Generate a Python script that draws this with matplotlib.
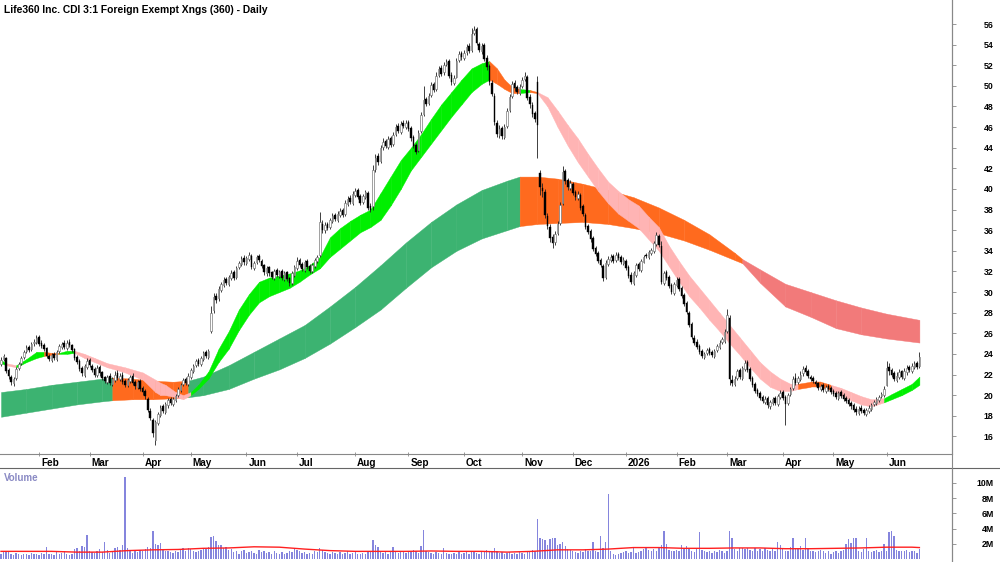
import numpy as np
import pandas as pd
import matplotlib
matplotlib.use("Agg")
import matplotlib.pyplot as plt
from matplotlib.lines import Line2D
from matplotlib.transforms import ScaledTranslation

plt.rcParams['font.family'] = ['Liberation Sans', 'DejaVu Sans']

title = "Life360 Inc. CDI 3:1 Foreign Exempt Xngs (360) - Daily"

# ASX trading days
holidays = ["2025-01-27", "2025-04-18", "2025-04-21", "2025-04-25", "2025-06-09",
            "2025-12-25", "2025-12-26", "2026-01-01", "2026-01-26", "2026-04-03",
            "2026-04-06", "2026-06-08"]
dates = pd.bdate_range("2025-01-10", "2026-06-19", freq="C", holidays=holidays)

# Daily prices
opens = [
    23.0, 23.5, 23.6, 22.4, 21.8, 21.2, 21.7, 22.6, 23.1, 23.7, 24.3, 24.7, 24.5, 25.1, 25.2, 25.6,
    25.1, 24.9, 24.6, 23.8, 23.4, 24.0, 23.5, 24.3, 24.7, 25.1, 24.6, 25.2, 24.9, 24.5, 23.7, 23.3, 22.6, 22.0, 22.7, 23.4,
    22.8, 22.5, 22.0, 22.7, 22.2, 21.8, 21.3, 21.9, 21.1, 21.5, 22.1, 21.6, 22.0, 21.4, 21.0, 21.4, 21.9, 21.3, 20.8, 21.4, 20.7,
    20.4, 19.6, 18.5, 17.6, 15.6, 17.3, 18.1, 18.9, 18.4, 19.0, 19.6, 19.1, 19.5, 20.0, 20.5, 21.1, 21.6, 21.1, 21.8,
    22.3, 22.9, 23.4, 23.0, 23.5, 24.2, 23.7, 26.2, 28.3, 29.6, 29.4, 30.2, 30.7, 31.3, 30.8, 31.4, 31.9, 31.5, 32.4, 32.7, 33.3, 32.8,
    33.2, 33.5, 32.3, 32.9, 33.5, 33.0, 32.6, 31.8, 32.4, 31.9, 31.4, 32.1, 31.6, 32.0, 31.3, 31.9, 31.4, 30.9, 31.7, 32.3,
    33.1, 32.7, 32.1, 33.0, 32.5, 32.0, 32.5, 33.0, 33.6, 36.6, 36.0, 36.6, 36.3, 36.9, 37.5, 37.0, 37.5, 38.0, 37.6, 38.5, 39.1, 38.6,
    39.4, 39.9, 39.3, 38.7, 39.2, 39.6, 38.3, 38.3, 41.9, 43.2, 42.7, 44.1, 44.7, 44.1, 44.9, 44.4, 45.3, 46.1, 45.5, 46.4, 46.0,
    46.5, 45.9, 45.0, 44.3, 43.8, 45.6, 47.3, 48.7, 48.3, 49.1, 50.2, 49.7, 51.1, 51.7, 51.3, 52.1, 52.4, 51.1, 50.3, 50.9, 52.5, 53.2,
    52.7, 53.3, 53.9, 53.5, 55.1, 55.5, 54.1, 53.4, 54.0, 52.7, 51.9, 50.3, 49.0, 46.4, 45.2, 45.9, 45.0, 46.1, 47.7, 49.0, 50.3, 49.9, 49.3,
    50.0, 50.7, 50.9, 48.9, 48.1, 47.4, 50.4, 41.5, 40.1, 39.7, 37.4, 36.3, 35.3, 34.9, 35.7, 36.7, 38.6, 41.7, 40.9, 40.1,
    40.5, 39.7, 39.1, 39.4, 38.3, 37.5, 36.4, 35.9, 35.2, 34.3, 33.8, 33.1, 32.5, 31.5, 32.7, 33.1, 33.5, 33.1, 33.7, 33.4, 32.8,
    33.0, 32.4, 31.7, 30.9, 31.7, 32.7, 32.1, 32.9, 33.6, 33.4, 33.8, 34.0, 34.7, 35.4, 34.5, 30.9, 31.9, 31.5, 30.7, 29.9,
    30.7, 31.3, 30.4, 29.7, 28.9, 28.0, 26.9, 25.5, 25.2, 24.8, 24.3, 23.7, 24.1, 24.5, 24.2, 23.8, 24.4, 24.7, 25.2, 25.3,
    26.2, 27.5, 21.5, 21.1, 21.7, 22.4, 21.7, 22.5, 23.2, 22.5, 21.7, 21.1, 20.5, 20.2, 19.8, 19.3, 19.7, 18.9, 19.2, 19.7, 19.1, 19.8,
    20.3, 19.8, 19.2, 20.1, 20.7, 21.7, 21.3, 21.6, 22.1, 22.6, 22.3, 21.8, 21.7, 21.3, 21.2, 20.6, 21.0, 20.4, 20.9, 20.7,
    20.4, 20.2, 19.7, 20.3, 20.0, 19.7, 19.5, 19.2, 19.0, 18.7, 18.3, 18.8, 18.6, 18.2, 18.5, 18.7, 19.1, 19.2, 19.5, 19.9, 20.0,
    21.0, 22.7, 22.4, 22.1, 21.5, 21.8, 22.3, 21.7, 22.2, 22.7, 22.3, 22.7, 23.1, 22.8,
]
highs = [
    23.7, 24.0, 23.7, 22.6, 22.0, 21.8, 22.7, 23.2, 23.8, 24.4, 24.9, 24.9, 25.2, 25.4, 25.8, 25.8,
    25.3, 25.1, 24.7, 24.0, 24.1, 24.2, 24.4, 25.0, 25.2, 25.3, 25.3, 25.4, 25.0, 24.6, 23.9, 23.5, 22.8, 23.0, 23.6, 23.6,
    23.0, 22.7, 22.9, 22.9, 22.3, 21.9, 22.0, 22.1, 21.8, 22.3, 22.4, 22.1, 22.2, 21.6, 21.7, 22.0, 22.1, 21.5, 21.5, 21.6, 20.9,
    20.6, 19.8, 18.8, 17.8, 17.6, 18.4, 19.0, 19.1, 19.3, 19.7, 19.8, 19.8, 20.1, 20.8, 21.2, 21.7, 21.8, 22.1, 22.6,
    23.0, 23.5, 23.6, 23.8, 24.3, 24.4, 24.5, 28.6, 29.9, 29.9, 30.6, 31.0, 31.5, 31.5, 31.7, 32.1, 32.1, 32.5, 33.0, 33.5, 33.6, 33.5,
    33.9, 33.7, 33.0, 33.6, 33.7, 33.2, 32.7, 32.5, 32.5, 32.0, 32.2, 32.3, 32.1, 32.2, 32.0, 32.0, 31.5, 32.0, 32.6, 33.4,
    33.3, 32.9, 33.1, 33.2, 32.7, 32.8, 33.3, 33.6, 37.8, 37.0, 36.8, 36.8, 37.2, 37.7, 37.7, 37.9, 38.2, 38.2, 38.9, 39.3, 39.4, 39.8,
    40.1, 40.1, 39.5, 39.5, 39.9, 39.8, 38.6, 42.3, 43.4, 43.5, 44.3, 44.9, 44.8, 45.1, 45.1, 45.5, 46.3, 46.4, 46.6, 46.7, 46.7,
    46.7, 46.1, 45.2, 44.5, 45.7, 47.5, 50.0, 48.9, 49.3, 50.4, 50.4, 51.3, 51.9, 52.0, 52.3, 52.6, 52.6, 51.3, 51.1, 52.7, 53.4, 53.4,
    53.5, 54.1, 54.2, 55.6, 55.8, 55.7, 54.3, 54.2, 54.2, 53.0, 52.1, 50.6, 49.3, 46.7, 46.2, 46.1, 46.3, 47.9, 49.2, 50.5, 50.6, 50.1, 50.2,
    50.9, 51.3, 51.1, 49.2, 48.4, 47.6, 51.0, 41.8, 40.6, 40.0, 37.7, 36.6, 35.6, 35.9, 36.9, 38.7, 42.2, 41.9, 41.1, 40.9,
    40.7, 39.9, 39.8, 39.6, 38.5, 37.7, 36.6, 36.1, 35.4, 34.5, 34.0, 33.3, 32.7, 33.1, 33.5, 33.7, 33.7, 33.9, 33.9, 33.6, 33.4,
    33.2, 32.6, 31.9, 32.0, 32.8, 32.9, 33.2, 33.6, 33.8, 34.1, 34.3, 35.0, 35.8, 35.6, 35.0, 32.0, 32.1, 31.7, 30.9, 31.0,
    31.5, 31.5, 30.6, 29.9, 29.1, 28.2, 27.1, 25.8, 25.4, 25.0, 24.5, 24.2, 24.6, 24.7, 24.4, 24.5, 25.0, 25.3, 25.6, 26.4,
    28.4, 27.8, 22.0, 21.9, 22.5, 22.6, 22.8, 23.4, 23.4, 22.7, 21.9, 21.3, 20.7, 20.4, 20.0, 19.9, 19.9, 19.5, 19.8, 19.9, 20.1, 20.5,
    20.5, 20.0, 20.2, 20.8, 21.9, 22.1, 21.9, 22.3, 22.8, 22.9, 22.5, 22.0, 21.9, 21.5, 21.3, 21.1, 21.2, 21.0, 21.1, 20.9,
    20.6, 20.4, 20.4, 20.5, 20.2, 19.9, 19.7, 19.4, 19.2, 18.9, 18.9, 19.0, 18.8, 18.8, 19.0, 19.2, 19.5, 19.8, 20.0, 20.3, 20.9,
    23.3, 23.1, 22.6, 22.3, 22.2, 22.5, 22.4, 22.6, 22.9, 22.9, 23.1, 23.3, 23.3, 24.2,
]
lows = [
    22.8, 23.3, 22.1, 21.6, 21.0, 20.9, 21.5, 22.4, 22.9, 23.5, 24.1, 24.2, 24.3, 24.8, 25.0, 24.8,
    24.6, 24.3, 23.6, 23.3, 23.2, 23.4, 23.3, 24.1, 24.5, 24.5, 24.4, 24.7, 24.2, 23.4, 23.0, 22.3, 21.9, 21.8, 22.5, 22.7,
    22.2, 21.8, 21.8, 21.9, 21.5, 21.2, 21.1, 21.0, 20.9, 21.3, 21.5, 21.4, 21.1, 20.8, 20.8, 21.2, 21.0, 20.6, 20.6, 20.4, 20.0,
    19.6, 18.4, 17.6, 15.9, 15.2, 17.1, 17.9, 18.3, 18.2, 18.8, 19.0, 18.9, 19.3, 19.8, 20.3, 20.9, 21.0, 20.9, 21.6,
    22.1, 22.7, 22.8, 22.8, 23.3, 23.6, 23.5, 26.0, 28.0, 28.9, 29.1, 30.0, 30.5, 30.7, 30.6, 31.2, 31.2, 31.3, 32.2, 32.5, 32.6, 32.6,
    33.0, 32.2, 32.1, 32.7, 32.9, 32.3, 31.7, 31.6, 31.6, 31.3, 31.2, 31.5, 31.4, 31.2, 31.1, 31.1, 30.6, 30.7, 31.5, 32.1,
    32.4, 32.0, 31.9, 32.2, 31.8, 31.8, 32.3, 32.8, 33.4, 35.7, 35.7, 36.0, 36.1, 36.7, 36.9, 36.8, 37.3, 37.3, 37.4, 38.3, 38.5, 38.4,
    39.2, 39.0, 38.4, 38.5, 39.0, 38.0, 37.8, 38.0, 41.6, 42.3, 42.5, 43.8, 44.0, 43.9, 44.1, 44.2, 45.1, 45.4, 45.3, 45.9, 45.8,
    45.6, 44.7, 44.0, 43.4, 43.6, 45.4, 47.1, 48.0, 48.1, 48.9, 49.4, 49.5, 50.9, 51.0, 51.1, 51.9, 50.8, 50.1, 50.1, 50.8, 52.3, 52.5,
    52.5, 53.0, 53.2, 53.3, 54.9, 54.0, 53.3, 53.1, 52.4, 51.5, 50.1, 49.0, 46.2, 45.0, 44.9, 44.8, 44.8, 45.9, 47.5, 48.8, 49.5, 49.2, 49.1,
    49.8, 50.5, 48.6, 47.9, 47.0, 46.5, 43.0, 39.4, 39.2, 37.2, 36.1, 34.9, 34.3, 34.6, 35.5, 36.5, 38.4, 40.5, 39.9, 39.9,
    39.4, 38.9, 38.9, 38.0, 37.4, 36.1, 35.6, 34.9, 34.0, 33.5, 32.8, 32.4, 31.1, 31.3, 32.5, 32.9, 32.8, 32.9, 33.1, 32.7, 32.6,
    32.1, 31.4, 30.8, 30.7, 31.5, 32.0, 31.9, 32.8, 33.3, 33.2, 33.6, 33.8, 34.5, 34.4, 30.8, 30.7, 31.2, 30.4, 29.8, 29.7,
    30.5, 30.1, 29.4, 28.6, 27.9, 26.6, 25.4, 24.9, 24.5, 24.0, 23.6, 23.5, 23.9, 23.9, 23.7, 23.6, 24.2, 24.5, 25.0, 25.1,
    26.0, 21.0, 20.9, 20.9, 21.5, 21.6, 21.5, 22.3, 22.2, 21.4, 20.8, 20.2, 19.9, 19.5, 19.2, 19.1, 18.8, 18.7, 19.0, 19.0, 18.9, 19.6,
    19.5, 17.1, 19.0, 19.9, 20.5, 21.0, 21.1, 21.4, 21.9, 22.0, 21.7, 21.4, 21.2, 20.9, 20.5, 20.4, 20.3, 20.2, 20.4, 20.1,
    19.9, 19.6, 19.5, 19.7, 19.4, 19.2, 18.9, 18.7, 18.4, 18.1, 18.1, 18.3, 18.1, 18.0, 18.3, 18.5, 18.9, 19.0, 19.3, 19.7, 19.8,
    20.9, 22.0, 21.8, 21.4, 21.3, 21.6, 21.6, 21.5, 22.0, 22.2, 22.1, 22.5, 22.5, 22.6,
]
closes = [
    23.4, 23.8, 22.3, 21.9, 21.3, 21.6, 22.5, 23.0, 23.6, 24.2, 24.6, 24.4, 25.0, 25.2, 25.5, 25.0,
    24.8, 24.5, 23.8, 23.5, 23.9, 23.6, 24.2, 24.8, 25.0, 24.7, 25.1, 24.9, 24.4, 23.6, 23.2, 22.5, 22.1, 22.8, 23.3, 22.9,
    22.4, 22.0, 22.6, 22.1, 21.7, 21.4, 21.8, 21.2, 21.6, 22.0, 21.7, 21.9, 21.3, 21.0, 21.5, 21.8, 21.2, 20.9, 21.3, 20.6, 20.3,
    19.9, 18.6, 17.8, 16.3, 17.4, 18.2, 18.8, 18.5, 19.1, 19.5, 19.2, 19.6, 19.9, 20.6, 21.0, 21.5, 21.2, 21.9, 22.4,
    22.8, 23.3, 23.0, 23.6, 24.1, 23.8, 24.3, 28.0, 29.5, 29.2, 30.3, 30.8, 31.2, 30.9, 31.5, 31.8, 31.4, 32.3, 32.8, 33.2, 32.9, 33.3,
    33.6, 32.4, 32.8, 33.4, 33.1, 32.5, 31.9, 32.3, 31.8, 31.5, 32.0, 31.7, 31.9, 31.4, 31.8, 31.3, 30.9, 31.8, 32.4, 33.0,
    32.6, 32.2, 32.9, 32.4, 32.0, 32.6, 33.1, 33.4, 36.8, 36.0, 36.5, 36.2, 37.0, 37.4, 37.1, 37.6, 37.9, 37.5, 38.6, 39.0, 38.7, 39.5,
    39.8, 39.2, 38.6, 39.3, 39.7, 38.2, 38.0, 41.8, 43.0, 42.6, 44.0, 44.6, 44.2, 44.8, 44.3, 45.2, 46.0, 45.6, 46.3, 46.1, 46.4,
    45.8, 44.9, 44.2, 43.6, 45.4, 47.2, 48.6, 48.2, 49.0, 50.1, 49.6, 51.0, 51.6, 51.2, 52.0, 52.3, 51.0, 50.4, 50.8, 52.4, 53.1, 52.8,
    53.2, 53.8, 53.4, 55.0, 55.4, 54.2, 53.5, 53.9, 52.6, 51.8, 50.4, 49.2, 46.5, 45.3, 45.8, 45.1, 46.0, 47.6, 48.9, 50.2, 49.8, 49.4, 49.9,
    50.6, 51.0, 48.8, 48.2, 47.3, 46.8, 46.2, 40.2, 39.8, 37.5, 36.4, 35.2, 34.8, 35.6, 36.6, 38.4, 41.6, 40.8, 40.2, 40.6,
    39.6, 39.2, 39.5, 38.2, 37.6, 36.3, 35.8, 35.1, 34.2, 33.7, 33.0, 32.6, 31.4, 32.8, 33.2, 33.4, 33.0, 33.6, 33.3, 32.9, 33.1,
    32.3, 31.6, 31.0, 31.8, 32.6, 32.2, 33.0, 33.4, 33.5, 33.9, 34.1, 34.8, 35.5, 34.6, 31.0, 31.8, 31.4, 30.6, 30.0, 30.8,
    31.2, 30.3, 29.6, 28.8, 28.1, 26.8, 25.6, 25.1, 24.7, 24.2, 23.8, 24.0, 24.4, 24.1, 23.9, 24.3, 24.8, 25.1, 25.4, 26.1,
    27.8, 21.6, 21.2, 21.6, 22.3, 21.8, 22.6, 23.1, 22.4, 21.6, 21.0, 20.4, 20.1, 19.7, 19.4, 19.6, 19.0, 19.3, 19.6, 19.2, 19.9, 20.2,
    19.7, 19.1, 20.0, 20.6, 21.6, 21.2, 21.7, 22.0, 22.5, 22.2, 21.9, 21.6, 21.4, 21.1, 20.7, 20.9, 20.5, 20.8, 20.6, 20.3,
    20.1, 19.8, 20.2, 19.9, 19.6, 19.4, 19.1, 18.9, 18.6, 18.4, 18.7, 18.5, 18.3, 18.6, 18.8, 19.0, 19.3, 19.6, 19.8, 20.1, 20.6,
    22.6, 22.3, 22.0, 21.6, 21.9, 22.2, 21.8, 22.3, 22.6, 22.4, 22.8, 23.0, 22.7, 23.7,
]
# volume in millions
volume_m = [
    0.6, 0.9, 1.1, 1.0, 0.7, 0.5, 0.8, 0.6, 0.5, 0.7, 0.6, 0.5, 0.8, 0.6, 0.7, 0.5,
    0.8, 0.6, 1.6, 0.7, 0.6, 0.5, 0.9, 0.7, 0.8, 1.0, 0.6, 0.5, 0.7, 1.3, 1.5, 1.0, 1.7, 1.6, 3.2, 1.1,
    0.9, 0.8, 1.0, 1.3, 0.9, 2.2, 1.2, 0.8, 1.0, 1.4, 1.6, 1.2, 1.9, 10.8, 1.5, 1.0, 0.8, 1.1, 0.9, 1.2, 1.0,
    1.3, 1.6, 1.4, 3.7, 2.0, 1.8, 2.1, 1.2, 1.0, 1.1, 0.9, 0.8, 1.0, 0.9, 1.2, 1.4, 1.1, 1.5, 1.3,
    1.0, 0.9, 1.1, 1.2, 1.4, 1.3, 1.6, 2.9, 3.0, 2.4, 1.8, 1.9, 1.5, 1.6, 1.2, 1.3, 0.9, 1.1, 0.7, 1.0, 1.2, 0.8,
    0.9, 1.1, 0.8, 0.7, 1.2, 0.9, 1.0, 0.8, 0.9, 0.7, 1.1, 0.8, 0.6, 0.9, 0.7, 0.8, 1.0, 0.9, 1.4, 1.2,
    1.0, 0.8, 0.9, 0.7, 0.8, 0.6, 1.1, 0.9, 1.4, 1.2, 0.9, 0.8, 0.7, 0.9, 0.8, 0.6, 0.9, 0.7, 0.8, 1.0, 0.7, 0.8,
    0.9, 0.7, 0.6, 0.8, 0.7, 0.9, 1.0, 2.5, 1.8, 1.6, 0.9, 0.8, 1.0, 0.7, 0.9, 1.6, 1.0, 0.8, 0.9, 1.1, 0.8,
    0.9, 1.0, 1.2, 1.1, 0.8, 1.7, 3.8, 1.0, 0.9, 0.8, 0.7, 0.9, 0.8, 0.7, 1.5, 0.8, 0.6, 0.7, 0.8, 0.6, 0.9, 0.7,
    0.8, 0.9, 0.7, 1.1, 0.9, 0.8, 0.7, 0.9, 1.0, 1.2, 1.1, 0.9, 1.4, 1.0, 0.8, 0.9, 0.7, 0.8, 0.9, 0.7, 0.8, 0.6, 0.9,
    0.8, 0.7, 1.0, 0.9, 1.2, 1.0, 5.2, 2.7, 2.6, 2.5, 1.9, 2.6, 2.7, 2.8, 1.8, 2.0, 2.2, 1.7, 1.3, 1.2,
    1.0, 0.9, 0.8, 1.1, 0.9, 1.3, 1.0, 1.1, 2.2, 1.0, 0.9, 3.0, 1.5, 2.2, 8.5, 1.0, 0.6, 0.5, 0.7, 0.8, 0.9,
    1.0, 0.8, 0.9, 1.4, 0.8, 0.9, 1.1, 1.3, 1.6, 1.2, 1.1, 1.3, 1.0, 1.4, 1.8, 3.7, 2.0, 1.2, 1.0, 1.1,
    1.2, 1.1, 1.8, 1.5, 1.7, 1.3, 1.0, 0.9, 1.4, 3.5, 1.2, 1.0, 0.9, 1.1, 0.8, 1.0, 0.9, 1.2, 1.0, 0.8,
    1.1, 3.7, 2.7, 1.3, 1.0, 1.4, 1.5, 1.3, 1.5, 1.2, 1.0, 1.4, 1.1, 1.3, 1.0, 1.4, 1.2, 1.0, 1.4, 1.1, 2.2, 1.9,
    1.3, 1.0, 1.1, 1.6, 2.8, 1.5, 1.3, 1.7, 1.2, 2.8, 1.4, 1.0, 1.1, 0.9, 1.0, 1.2, 1.0, 0.8, 1.1, 0.7,
    0.9, 1.0, 0.8, 1.1, 1.2, 2.0, 2.6, 2.1, 2.8, 2.7, 1.0, 0.9, 1.3, 2.8, 1.1, 0.9, 1.0, 1.2, 0.9, 1.0, 2.0,
    1.1, 3.5, 3.7, 3.0, 1.2, 1.0, 1.1, 1.0, 1.2, 0.9, 1.0, 1.1, 0.8, 1.3,
]
# volume average line, sampled
vol_avg_idx = [0, 10, 20, 30, 40, 50, 60, 70, 80, 90, 100, 110, 120, 130, 140, 150, 160, 170, 180,
               190, 200, 210, 220, 230, 240, 250, 260, 270, 280, 290, 300, 310, 320, 330, 340, 350, 360, 363]
vol_avg = [1.0, 1.0, 1.0, 0.9, 0.9, 1.1, 1.2, 1.25, 1.4, 1.45, 1.6, 1.55, 1.3, 1.1, 1.0, 1.0, 1.0, 1.05, 1.0,
           1.0, 0.9, 1.0, 1.2, 1.2, 1.3, 1.5, 1.5, 1.4, 1.4, 1.45, 1.45, 1.35, 1.35, 1.4, 1.45, 1.55, 1.55, 1.5]

# short-term ribbon (upper, lower, colour code of the segment that starts there)
short_idx = [0, 2, 6, 10, 14, 17, 20, 23, 26, 29, 33, 37, 42, 49, 56, 61, 63, 65, 69, 72, 75, 78, 82, 86,
             90, 94, 98, 102, 106, 110, 114, 118, 122, 126, 130, 134, 138, 142, 146, 150, 154, 158, 162,
             166, 170, 174, 178, 182, 186, 190, 193, 196, 199, 202, 205, 209, 212, 216, 220, 224, 228,
             232, 236, 240, 244, 248, 252, 256, 260, 264, 268, 272, 276, 280, 284, 288, 292, 296, 300,
             304, 308, 312, 315, 320, 324, 328, 332, 336, 340, 344, 349, 352, 356, 360, 363]
short_hi = [23.4, 23.1, 22.9, 23.5, 24.2, 24.2, 24.1, 24.1, 24.3, 24.3, 24.0, 23.6, 23.1, 22.7, 22.2, 21.5,
            21.2, 21.0, 20.3, 20.0, 20.3, 21.0, 22.3, 24.5, 26.2, 28.3, 29.8, 31.0, 31.4, 31.6, 31.8,
            32.1, 32.6, 33.4, 35.3, 36.2, 36.9, 37.5, 38.0, 39.6, 41.2, 42.8, 44.0, 45.3, 46.8, 48.2,
            49.4, 50.6, 51.7, 52.2, 52.4, 51.7, 50.6, 49.9, 49.7, 49.6, 49.4, 48.9, 47.6, 46.2, 44.9,
            43.4, 42.0, 40.7, 39.8, 39.0, 38.4, 37.3, 36.3, 34.5, 33.0, 31.6, 30.4, 29.2, 28.0, 26.8,
            25.6, 24.4, 23.2, 22.3, 21.6, 21.1, 21.1, 21.3, 21.3, 21.0, 20.7, 20.3, 19.9, 19.6, 19.7,
            20.1, 20.6, 21.1, 21.8]
short_lo = [23.1, 22.9, 22.7, 23.2, 23.6, 23.8, 23.9, 24.0, 24.0, 24.1, 23.6, 23.2, 22.7, 22.2, 21.5, 20.3,
            20.0, 20.0, 19.8, 19.6, 20.0, 20.6, 21.6, 23.2, 24.5, 26.3, 27.8, 29.0, 29.6, 30.0, 30.4,
            31.0, 31.7, 32.3, 33.4, 34.2, 35.0, 35.8, 36.3, 37.0, 38.4, 40.0, 41.8, 43.1, 44.4, 45.7,
            47.0, 48.2, 49.4, 50.2, 50.6, 50.2, 49.7, 49.3, 49.3, 49.4, 49.3, 48.0, 46.0, 44.2, 42.6,
            41.2, 39.8, 38.6, 37.6, 36.9, 36.2, 35.1, 34.0, 32.5, 31.0, 29.6, 28.5, 27.3, 26.2, 25.0,
            23.9, 22.7, 21.6, 20.8, 20.4, 20.4, 20.6, 20.8, 20.8, 20.5, 20.0, 19.5, 19.1, 18.9, 19.3,
            19.6, 20.0, 20.5, 21.0]
short_code = list("g" "p" "ggg" "oo" "gg" + "p" * 11 + "g" * 30 + "oooo" "g" "o" + "p" * 26
                  + "ooo" + "p" * 5 + "g" * 4)

# long-term ribbon
long_idx = [0, 10, 20, 30, 40, 44, 52, 60, 68, 74, 80, 90, 100, 110, 120, 130, 140, 150, 160, 170, 180,
            190, 200, 205, 212, 220, 230, 240, 250, 260, 270, 280, 290, 293, 300, 310, 320, 330, 340, 350, 363]
long_hi = [20.3, 20.6, 21.0, 21.3, 21.6, 21.7, 21.6, 21.4, 21.3, 21.4, 21.8, 22.9, 24.2, 25.5, 26.8, 28.6,
           30.5, 32.6, 34.8, 36.8, 38.5, 39.9, 40.8, 41.2, 41.2, 41.0, 40.5, 39.9, 39.2, 38.2, 37.0, 35.6,
           33.8, 33.2, 32.2, 30.8, 30.0, 29.2, 28.5, 27.9, 27.3]
long_lo = [17.9, 18.3, 18.7, 19.1, 19.4, 19.5, 19.6, 19.6, 19.7, 19.8, 20.0, 20.6, 21.6, 22.5, 23.6, 25.0,
           26.6, 28.3, 30.4, 32.4, 34.0, 35.2, 36.0, 36.4, 36.6, 36.7, 36.8, 36.6, 36.2, 35.7, 35.0, 34.1,
           33.1, 32.8, 30.9, 28.6, 27.6, 26.5, 25.9, 25.5, 25.1]
long_code = list("ggggg" "oooo" + "g" * 14 + "o" * 10 + "r" * 7)

short_colors = {"g": "#00ef00", "p": "#ffb4b4", "o": "#ff6a1e"}
long_colors = {"g": "#3cb371", "o": "#ff6a1e", "r": "#f27a7a"}

n = min(len(dates), len(closes))
x = np.arange(n)
o = np.array(opens[:n]); h = np.array(highs[:n]); l = np.array(lows[:n]); c = np.array(closes[:n])

fig = plt.figure(figsize=(10, 5.62), dpi=100)
ax = fig.add_axes([0, 1 - 454 / 562, 0.952, 454 / 562])
axv = fig.add_axes([0, 0, 0.952, 94 / 562])

x0 = -0.4
x1 = x0 + 952 / 2.53
for a in (ax, axv):
    a.set_xlim(x0, x1)
    for s in ("top", "left"):
        a.spines[s].set_visible(False)
    a.spines["right"].set_color("#888888")
    a.spines["right"].set_linewidth(0.8)
    a.yaxis.tick_right()
axv.spines["bottom"].set_visible(False)
ax.spines["bottom"].set_color("#888888")
ax.spines["bottom"].set_linewidth(0.8)


def ribbon(a, idx, hi, lo, codes, colors, z):
    for k in range(len(idx) - 1):
        col = colors[codes[k]]
        a.fill_between(idx[k:k + 2], lo[k:k + 2], hi[k:k + 2], color=col,
                       edgecolor=col, linewidth=0.3, zorder=z)


ribbon(ax, long_idx, long_hi, long_lo, long_code, long_colors, 1)
ribbon(ax, short_idx, short_hi, short_lo, short_code, short_colors, 2)

# candles
up = c >= o
body_lo = np.minimum(o, c)
body_hi = np.maximum(o, c)
ax.vlines(x, np.minimum(l, body_lo), np.maximum(h, body_hi), color="#202020", linewidth=0.6, zorder=3)
ax.bar(x[up], np.maximum(body_hi[up] - body_lo[up], 0.08), bottom=body_lo[up], width=0.62,
       color="white", edgecolor="#7a7a7a", linewidth=0.5, zorder=4)
ax.bar(x[~up], np.maximum(body_hi[~up] - body_lo[~up], 0.08), bottom=body_lo[~up], width=0.62,
       color="black", edgecolor="black", linewidth=0.3, zorder=4)

ax.set_ylim(14.29, 58.33)
ax.set_yticks(np.arange(16, 57, 2))
ax.set_yticklabels([str(v) for v in range(16, 57, 2)])
ax.tick_params(axis="y", direction="out", length=3, width=0.6, color="#888888", pad=27,
               labelsize=6.3)
for t in ax.get_yticklabels():
    t.set_fontweight("bold")
    t.set_horizontalalignment("right")

# month ticks at first trading day of each month
pos = pd.Series(np.arange(len(dates)), index=dates)
firsts = pos.groupby([dates.year, dates.month]).first()
tick_pos, tick_lab = [], []
for (yr, mo), i in firsts.items():
    if i == 0 or i >= n:
        continue
    tick_pos.append(i)
    tick_lab.append(str(yr) if mo == 1 else pd.Timestamp(yr, mo, 1).strftime("%b"))
ax.set_xticks(tick_pos)
ax.set_xticklabels(tick_lab, ha="left", fontweight="bold")
ax.tick_params(axis="x", direction="inout", length=3, width=0.6, color="#888888", pad=1.5,
               labelsize=7.2)
shift = ScaledTranslation(2 / 100, 0, fig.dpi_scale_trans)
for t in ax.get_xticklabels():
    t.set_transform(t.get_transform() + shift)

# volume panel
axv.bar(x, volume_m[:n], width=0.55, color="#8585dd", linewidth=0, zorder=2)
axv.plot(vol_avg_idx, vol_avg, color="#ff2020", linewidth=1.0, zorder=3)
axv.set_ylim(-0.4, 11.97)
axv.set_yticks([2, 4, 6, 8, 10])
axv.set_yticklabels(["2M", "4M", "6M", "8M", "10M"])
axv.set_xticks([])
axv.tick_params(axis="y", direction="out", length=3, width=0.6, color="#888888", pad=27,
                labelsize=6.3)
for t in axv.get_yticklabels():
    t.set_fontweight("bold")
    t.set_horizontalalignment("right")

fig.add_artist(Line2D([0, 1], [1 - 468 / 562] * 2, color="#666666", linewidth=0.8))
fig.add_artist(Line2D([0.952, 0.952], [0, 1], color="#888888", linewidth=0.8))

fig.text(0.004, 1 - 10 / 562, title, fontsize=7.4, fontweight="bold", va="center", ha="left")
fig.text(0.004, 1 - 478 / 562, "Volume", fontsize=7, fontweight="bold", color="#8a8ac4",
         va="center", ha="left")

fig.savefig("out.png", dpi=100)
